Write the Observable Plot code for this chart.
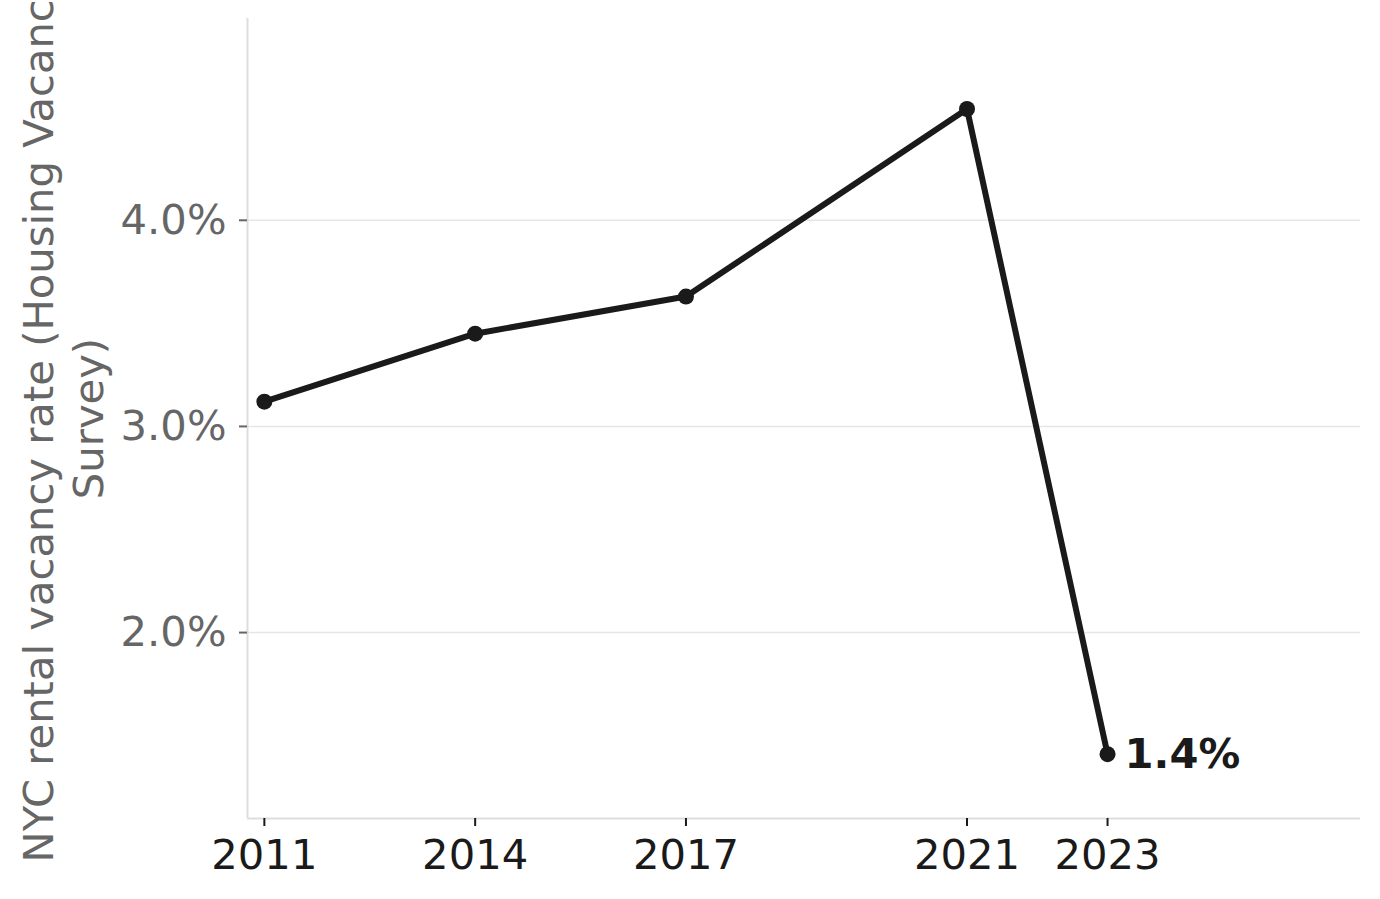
<!DOCTYPE html>
<html>
<head>
<meta charset="utf-8">
<script src="https://cdn.jsdelivr.net/npm/d3@7"></script>
<script src="https://cdn.jsdelivr.net/npm/@observablehq/plot@0.6"></script>
<style>
  html, body { margin: 0; padding: 0; background: #fff; }
  #chart svg { display: block; }
</style>
</head>
<body>
<div id="chart"></div>
<script>
const years = [2011, 2014, 2017, 2021, 2023];
const vacancyRates = [3.12, 3.45, 3.63, 4.54, 1.41];
const xTicks = [2011, 2014, 2017, 2021, 2023];
const yTicks = [2, 3, 4];
const xDomain = [2010.76, 2026.6];
const yDomain = [1.098, 4.979];
const yLabel = "NYC rental vacancy rate (Housing Vacancy\nSurvey)";
const lastLabel = "1.4%";

const data = years.map((year, i) => ({year, rate: vacancyRates[i]}));
const last = data[data.length - 1];

const ink = "#1a1a1a";
const font = "DejaVu Sans";
const fs = 41.7;

const chart = Plot.plot({
  width: 1380,
  height: 899,
  marginLeft: 247,
  marginRight: 20,
  marginTop: 18,
  marginBottom: 81,
  style: {fontFamily: font, background: "#fff", overflow: "visible"},
  x: {domain: xDomain},
  y: {domain: yDomain},
  marks: [
    Plot.gridY(yTicks, {stroke: "#e6e6e6", strokeOpacity: 1, strokeWidth: 1.5}),
    Plot.ruleX([xDomain[0]], {stroke: "#dddddd", strokeWidth: 2}),
    Plot.ruleY([yDomain[0]], {stroke: "#dddddd", strokeWidth: 2}),
    Plot.axisX(xTicks, {
      tickFormat: d => String(d),
      tickSize: 8,
      tickPadding: 13,
      fontSize: fs,
      color: ink,
      strokeWidth: 2,
      label: null
    }),
    Plot.axisY(yTicks, {
      tickFormat: d => d.toFixed(1) + "%",
      tickSize: 8,
      tickPadding: 13,
      fontSize: fs,
      color: "#666666",
      strokeWidth: 2,
      label: null
    }),
    Plot.text([yLabel], {
      frameAnchor: "left",
      rotate: -90,
      dx: -186,
      lineHeight: 1.2,
      fontSize: fs,
      fill: "#666666",
      textAnchor: "middle"
    }),
    Plot.line(data, {x: "year", y: "rate", stroke: ink, strokeWidth: 6, strokeLinejoin: "round"}),
    Plot.dot(data, {x: "year", y: "rate", r: 8, fill: ink, stroke: "none"}),
    Plot.text([last], {
      x: "year",
      y: "rate",
      text: () => lastLabel,
      textAnchor: "start",
      dx: 17,
      fontSize: fs,
      fontWeight: "bold",
      fill: ink
    })
  ]
});

document.getElementById("chart").appendChild(chart);
</script>
</body>
</html>
